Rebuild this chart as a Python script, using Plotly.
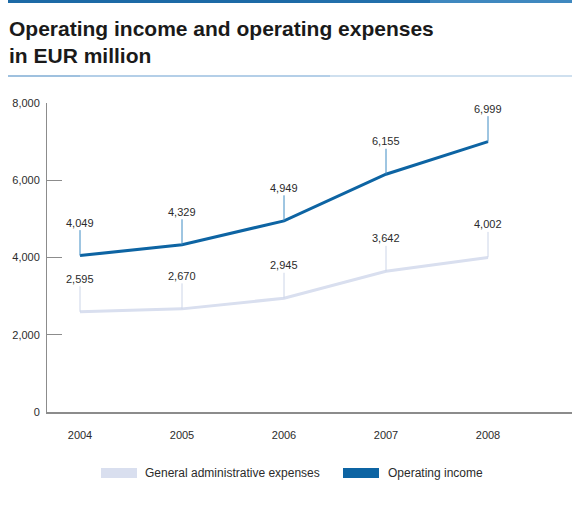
import plotly.graph_objects as go

# Figures in EUR million
years = [2004, 2005, 2006, 2007, 2008]
operating_income = [4049, 4329, 4949, 6155, 6999]
admin_expenses = [2595, 2670, 2945, 3642, 4002]

y_ticks = [0, 2000, 4000, 6000, 8000]
y_tick_text = ["0", "2,000", "4,000", "6,000", "8,000"]

income_color = "#0d64a3"
income_leader = "#3f8cc4"
expense_color = "#d9dfef"
expense_leader = "#ccd5e8"
text_color = "#2b2b2b"
axis_color = "#8c8c8c"
font_family = "Liberation Sans, Arial, sans-serif"

W, H = 572, 510
ML, MR, MT, MB = 47, 0, 103, 98
PW, PH = W - ML - MR, H - MT - MB


def fx(px):
    """Page pixel x -> paper coordinate."""
    return (px - ML) / PW


def fy(py):
    """Page pixel y -> paper coordinate."""
    return (H - MB - py) / PH


fig = go.Figure()

fig.add_trace(go.Scatter(
    x=years, y=admin_expenses, mode="lines",
    line=dict(color=expense_color, width=3),
    name="General administrative expenses", hoverinfo="x+y",
))
fig.add_trace(go.Scatter(
    x=years, y=operating_income, mode="lines",
    line=dict(color=income_color, width=3),
    name="Operating income", hoverinfo="x+y",
))

annotations = []
# Value labels with short leader lines above each point
for series, leader in ((admin_expenses, expense_leader), (operating_income, income_leader)):
    for x, v in zip(years, series):
        annotations.append(dict(
            x=x, y=v, xref="x", yref="y",
            text=f"{v:,}", showarrow=True, arrowhead=0, arrowwidth=1,
            arrowcolor=leader, ax=0, ay=-33, standoff=0,
            font=dict(family=font_family, size=11, color=text_color),
        ))

# Heading
annotations.append(dict(
    x=fx(7), y=fy(28), xref="paper", yref="paper", xanchor="left", yanchor="middle",
    text="<b>Operating income and operating expenses</b>", showarrow=False,
    font=dict(family=font_family, size=21, color="#1a1a1a"),
))
annotations.append(dict(
    x=fx(7), y=fy(56), xref="paper", yref="paper", xanchor="left", yanchor="middle",
    text="<b>in EUR million</b>", showarrow=False,
    font=dict(family=font_family, size=21, color="#1a1a1a"),
))

# Legend text
annotations.append(dict(
    x=fx(143), y=fy(473), xref="paper", yref="paper", xanchor="left", yanchor="middle",
    text="General administrative expenses", showarrow=False,
    font=dict(family=font_family, size=12, color=text_color),
))
annotations.append(dict(
    x=fx(386), y=fy(473), xref="paper", yref="paper", xanchor="left", yanchor="middle",
    text="Operating income", showarrow=False,
    font=dict(family=font_family, size=12, color=text_color),
))

shapes = []
# Top rule (dark blue fading lighter)
for x0, x1, c in ((8, 300, "#1c6aa6"), (300, 430, "#226fab"), (430, 572, "#3f88bf")):
    shapes.append(dict(type="rect", xref="paper", yref="paper",
                       x0=fx(x0), x1=fx(x1), y0=fy(3), y1=fy(0),
                       fillcolor=c, line=dict(width=0), layer="above"))
# Rule under the heading
for x0, x1, c in ((8, 80, "#9fc1df"), (80, 330, "#b4cfe8"), (330, 572, "#cfe0ef")):
    shapes.append(dict(type="rect", xref="paper", yref="paper",
                       x0=fx(x0), x1=fx(x1), y0=fy(77), y1=fy(75),
                       fillcolor=c, line=dict(width=0), layer="above"))
# Legend swatches
shapes.append(dict(type="rect", xref="paper", yref="paper",
                   x0=fx(101), x1=fx(137), y0=fy(478), y1=fy(468),
                   fillcolor=expense_color, line=dict(width=0)))
shapes.append(dict(type="rect", xref="paper", yref="paper",
                   x0=fx(343), x1=fx(379), y0=fy(478), y1=fy(468),
                   fillcolor=income_color, line=dict(width=0)))

x_span = PW / 102.0
x0 = 2004 - 33 / 102.0

fig.update_layout(
    width=W, height=H,
    margin=dict(l=ML, r=MR, t=MT, b=MB, pad=0),
    paper_bgcolor="white", plot_bgcolor="white",
    showlegend=False,
    font=dict(family=font_family, size=11, color=text_color),
    annotations=annotations,
    shapes=shapes,
    xaxis=dict(
        range=[x0, x0 + x_span], tickvals=years, ticktext=[str(y) for y in years],
        showgrid=False, zeroline=False, showline=True, linecolor=axis_color, linewidth=2,
        ticks="", ticklabelstandoff=12,
        tickfont=dict(family=font_family, size=11, color=text_color),
        fixedrange=True,
    ),
    yaxis=dict(
        range=[0, 8000], tickvals=y_ticks, ticktext=y_tick_text,
        showgrid=False, zeroline=False, showline=True, linecolor=axis_color, linewidth=1,
        ticks="inside", ticklen=15, tickcolor=axis_color, tickwidth=1,
        ticklabelstandoff=4,
        tickfont=dict(family=font_family, size=11, color=text_color),
        fixedrange=True,
    ),
)

fig.write_html("out.html", config={"displayModeBar": False})
